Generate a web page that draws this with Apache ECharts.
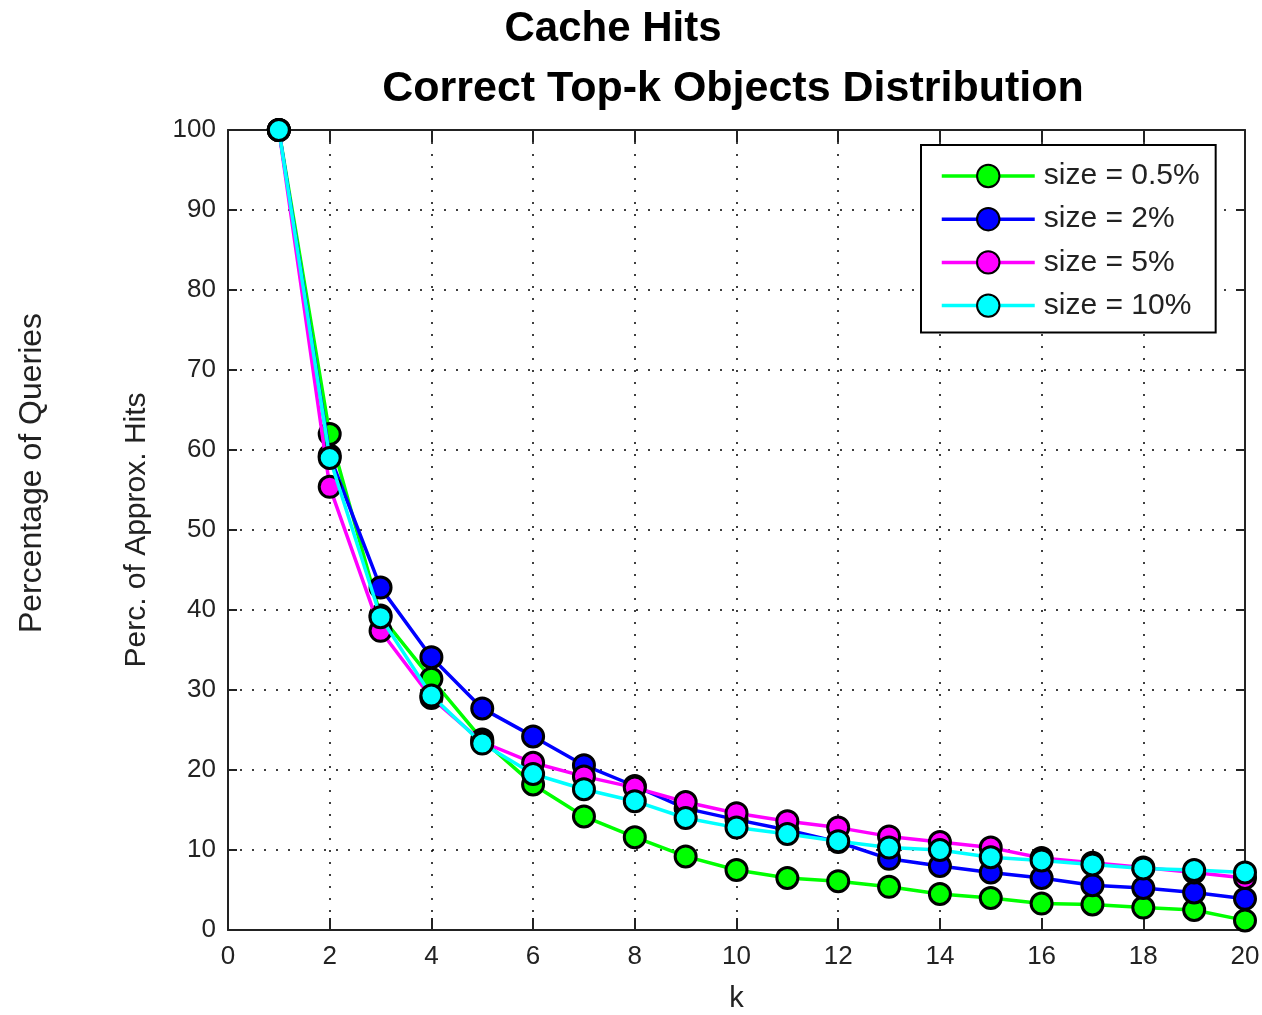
<!DOCTYPE html>
<html>
<head>
<meta charset="utf-8">
<script src="https://cdn.jsdelivr.net/npm/echarts@6/dist/echarts.min.js"></script>
<style>html,body{margin:0;padding:0;background:#fff}#c{width:1262px;height:1015px}</style>
</head>
<body>
<div id="c"></div>
<script>
const kValues = [1,2,3,4,5,6,7,8,9,10,11,12,13,14,15,16,17,18,19,20];
const size05 = [100, 62, 39.3, 31.4, 23.8, 18.2, 14.2, 11.6, 9.2, 7.5, 6.5, 6.1, 5.4, 4.5, 4.0, 3.3, 3.2, 2.8, 2.5, 1.2];
const size2  = [100, 59.3, 42.8, 34.1, 27.7, 24.2, 20.6, 18.0, 15.2, 13.8, 12.5, 11.0, 8.9, 8.0, 7.2, 6.5, 5.6, 5.25, 4.7, 3.9];
const size5  = [100, 55.4, 37.4, 29.0, 23.5, 20.9, 19.2, 17.8, 16.0, 14.6, 13.6, 12.8, 11.7, 11.0, 10.3, 9.0, 8.4, 7.8, 7.2, 6.5];
const size10 = [100, 59, 39.1, 29.3, 23.3, 19.5, 17.6, 16.1, 14.0, 12.8, 12.0, 11.1, 10.3, 10.0, 9.1, 8.7, 8.2, 7.7, 7.5, 7.2];
const seriesNames = ['size = 0.5%', 'size = 2%', 'size = 5%', 'size = 10%'];
const seriesColors = ['#00ff00', '#0000ff', '#ff00ff', '#00ffff'];
const seriesData = [size05, size2, size5, size10];
const titleMain = 'Cache Hits';
const titleSub = 'Correct Top-k Objects Distribution';
const xName = 'k';
const yName = 'Perc. of Approx. Hits';
const outerYName = 'Percentage of Queries';

const FONT = 'Liberation Sans';
const chart = echarts.init(document.getElementById('c'), null, {renderer: 'canvas'});

const gridLine = {show: true, lineStyle: {color: '#000', type: [2, 10], width: 1.5}};
const axisLine = {show: true, onZero: false, lineStyle: {color: '#222', width: 2}};
const xTick = {show: true, inside: true, length: 12, lineStyle: {color: '#222', width: 2}};
const yTick = {show: true, inside: true, length: 9, lineStyle: {color: '#222', width: 2}};

const option = {
  backgroundColor: '#fff',
  animation: false,
  graphic: [
    {type: 'text', x: 613, y: 29, style: {text: titleMain, font: 'bold 42px "' + FONT + '"', fill: '#000', textAlign: 'center', textVerticalAlign: 'middle'}},
    {type: 'text', x: 733, y: 89, style: {text: titleSub, font: 'bold 43px "' + FONT + '"', fill: '#000', textAlign: 'center', textVerticalAlign: 'middle'}},
    {type: 'text', x: 32, y: 473, rotation: Math.PI / 2, style: {text: outerYName, font: '32px "' + FONT + '"', fill: '#222', textAlign: 'center', textVerticalAlign: 'middle'}}
  ],
  grid: {left: 228, right: 17, top: 130, bottom: 85, containLabel: false, outerBoundsMode: 'none', show: false},
  legend: {
    orient: 'vertical', left: 921, top: 145,
    padding: [16, 16, 12, 19],
    backgroundColor: '#fff', borderColor: '#000', borderWidth: 2,
    itemWidth: 93, itemHeight: 28, itemGap: 13.2,
    lineStyle: {width: 3.5},
    textStyle: {fontFamily: FONT, fontSize: 30, color: '#222', padding: [0, 0, 0, 4]},
    data: seriesNames
  },
  xAxis: [{
    type: 'value', min: 0, max: 20, interval: 2,
    name: xName, nameLocation: 'middle', nameGap: 54,
    nameTextStyle: {fontFamily: FONT, fontSize: 29, color: '#222'},
    axisLine: axisLine, axisTick: xTick,
    axisLabel: {fontFamily: FONT, fontSize: 26, color: '#222', margin: 14},
    splitLine: gridLine
  }, {
    type: 'value', min: 0, max: 20, interval: 2, position: 'top',
    axisLine: axisLine, axisTick: xTick,
    axisLabel: {show: false}, splitLine: {show: false}
  }],
  yAxis: [{
    type: 'value', min: 0, max: 100, interval: 10,
    name: yName, nameLocation: 'middle', nameGap: 76, nameRotate: 90,
    nameTextStyle: {fontFamily: FONT, fontSize: 30, color: '#222'},
    axisLine: axisLine, axisTick: yTick,
    axisLabel: {fontFamily: FONT, fontSize: 26, color: '#222', margin: 12},
    splitLine: gridLine
  }, {
    type: 'value', min: 0, max: 100, interval: 10, position: 'right',
    axisLine: axisLine, axisTick: yTick,
    axisLabel: {show: false}, splitLine: {show: false}
  }],
  series: seriesNames.map((name, i) => ({
    name: name,
    type: 'line',
    xAxisIndex: 0, yAxisIndex: 0,
    data: kValues.map((k, j) => [k, seriesData[i][j]]),
    symbol: 'circle', symbolSize: 21,
    lineStyle: {color: seriesColors[i], width: 3.5},
    itemStyle: {color: seriesColors[i], borderColor: '#000', borderWidth: 3},
    emphasis: {disabled: true},
    z: 2 + i
  }))
};
chart.setOption(option);
</script>
</body>
</html>
